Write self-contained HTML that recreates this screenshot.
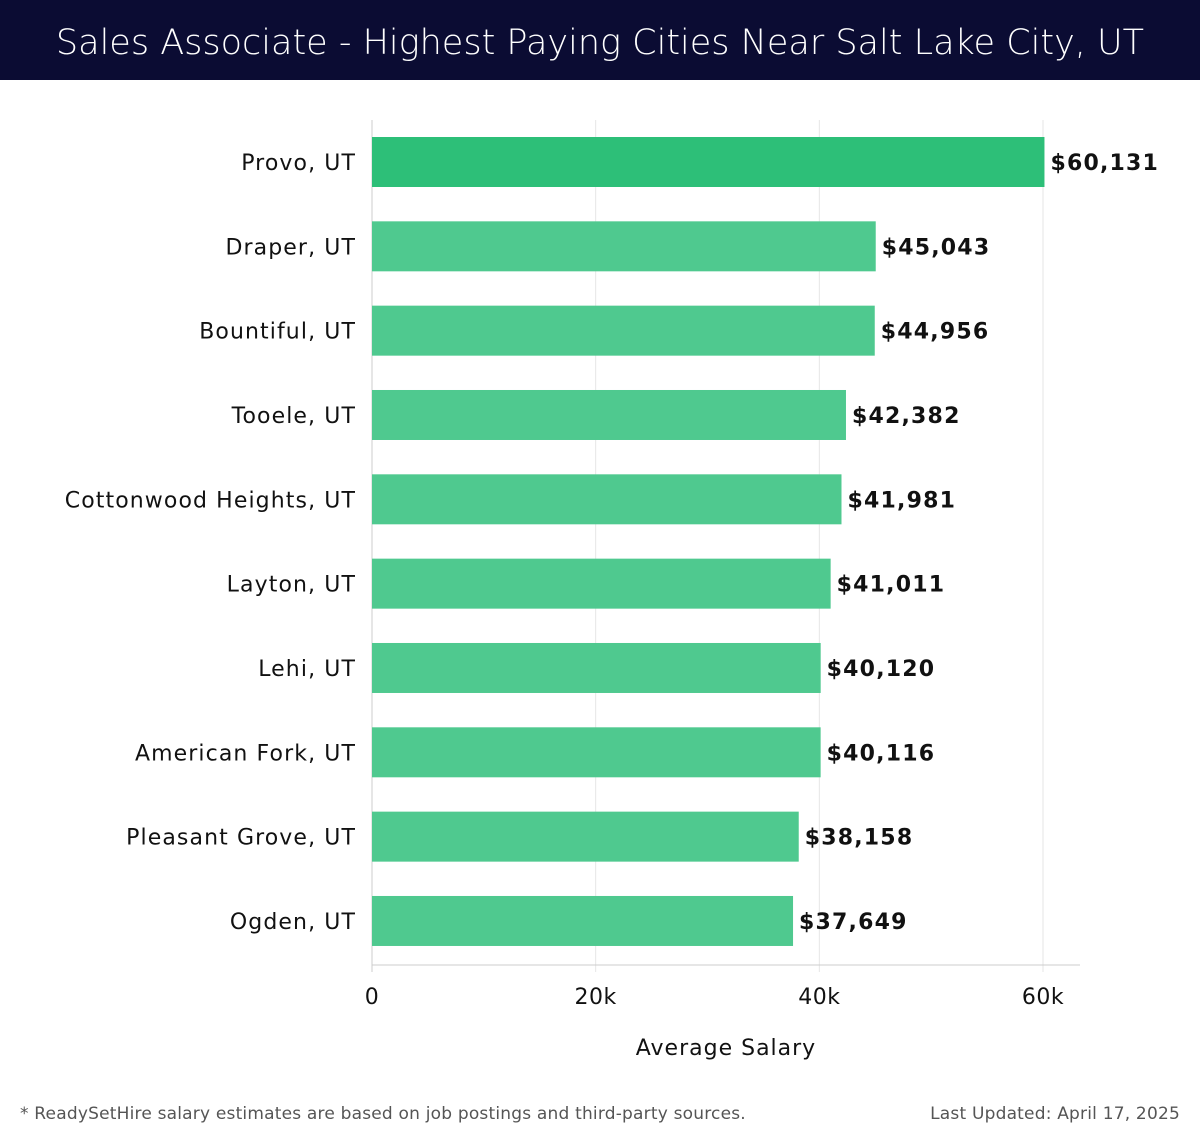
<!DOCTYPE html>
<html><head><meta charset="utf-8"><style>
body{margin:0;width:1200px;height:1140px;background:#fff;font-family:"DejaVu Sans","Liberation Sans",sans-serif;overflow:hidden}
#title{position:absolute;left:0;top:0;width:1200px;height:80px;background:#0b0c33;color:#fff;font-size:35px;line-height:86px;text-align:center;font-weight:300;font-family:"DejaVu Sans","Liberation Sans",sans-serif}
svg text{font-family:"DejaVu Sans","Liberation Sans",sans-serif}
</style></head><body>
<div id="title">Sales Associate - Highest Paying Cities Near Salt Lake City, UT</div>
<svg id="chart" width="1200" height="1140" style="position:absolute;left:0;top:0"></svg>
<script>
const cities=["Provo, UT","Draper, UT","Bountiful, UT","Tooele, UT","Cottonwood Heights, UT","Layton, UT","Lehi, UT","American Fork, UT","Pleasant Grove, UT","Ogden, UT"];
const salaries=[60131,45043,44956,42382,41981,41011,40120,40116,38158,37649];
const ticks=[0,20000,40000,60000];
const tickLabels=["0","20k","40k","60k"];
const svg=document.getElementById('chart');
const NS='http://www.w3.org/2000/svg';
const x=v=>372+v*(671/60000);
const yc=i=>162+i*84.33;
function mk(t,a,txt){const e=document.createElementNS(NS,t);for(const k in a)e.setAttribute(k,a[k]);if(txt!=null)e.textContent=txt;svg.appendChild(e);return e;}
ticks.forEach((t,i)=>{
 const g=mk('line',{x1:x(t),x2:x(t),y1:120,y2:972,stroke:i==0?'#ccc':'#e6e6e6','stroke-width':1});
 
 
 const l=mk('text',{x:x(t),y:1004,'text-anchor':'middle','font-size':22,fill:'#111','letter-spacing':0.5},tickLabels[i]);
 
 
});
const ax=mk('line',{x1:372,x2:1080,y1:965,y2:965,stroke:'#ccc','stroke-width':1});


cities.forEach((c,i)=>{
 const y=yc(i);
 const b=mk('rect',{x:372,y:y-25,width:x(salaries[i])-372,height:50,fill:i==0?'#2dbf78':'#4fc98f'});
 
 
 const l=mk('text',{x:356,y:y+8,'text-anchor':'end','font-size':22,fill:'#111','letter-spacing':1.1},c);
 
 
 const v=mk('text',{x:x(salaries[i])+6,y:y+8,'font-size':22,'font-weight':'bold',fill:'#111','letter-spacing':1.2},'$'+salaries[i].toLocaleString('en-US'));
 
 
});
const at=mk('text',{x:726,y:1055,'text-anchor':'middle','font-size':22,fill:'#111','letter-spacing':1},'Average Salary');


const f1=mk('text',{x:20,y:1119,'font-size':17,fill:'#555','letter-spacing':0.2},'* ReadySetHire salary estimates are based on job postings and third-party sources.');


const f2=mk('text',{x:1180,y:1119,'text-anchor':'end','font-size':17,fill:'#555','letter-spacing':0.2},'Last Updated: April 17, 2025');


</script>
</body></html>
